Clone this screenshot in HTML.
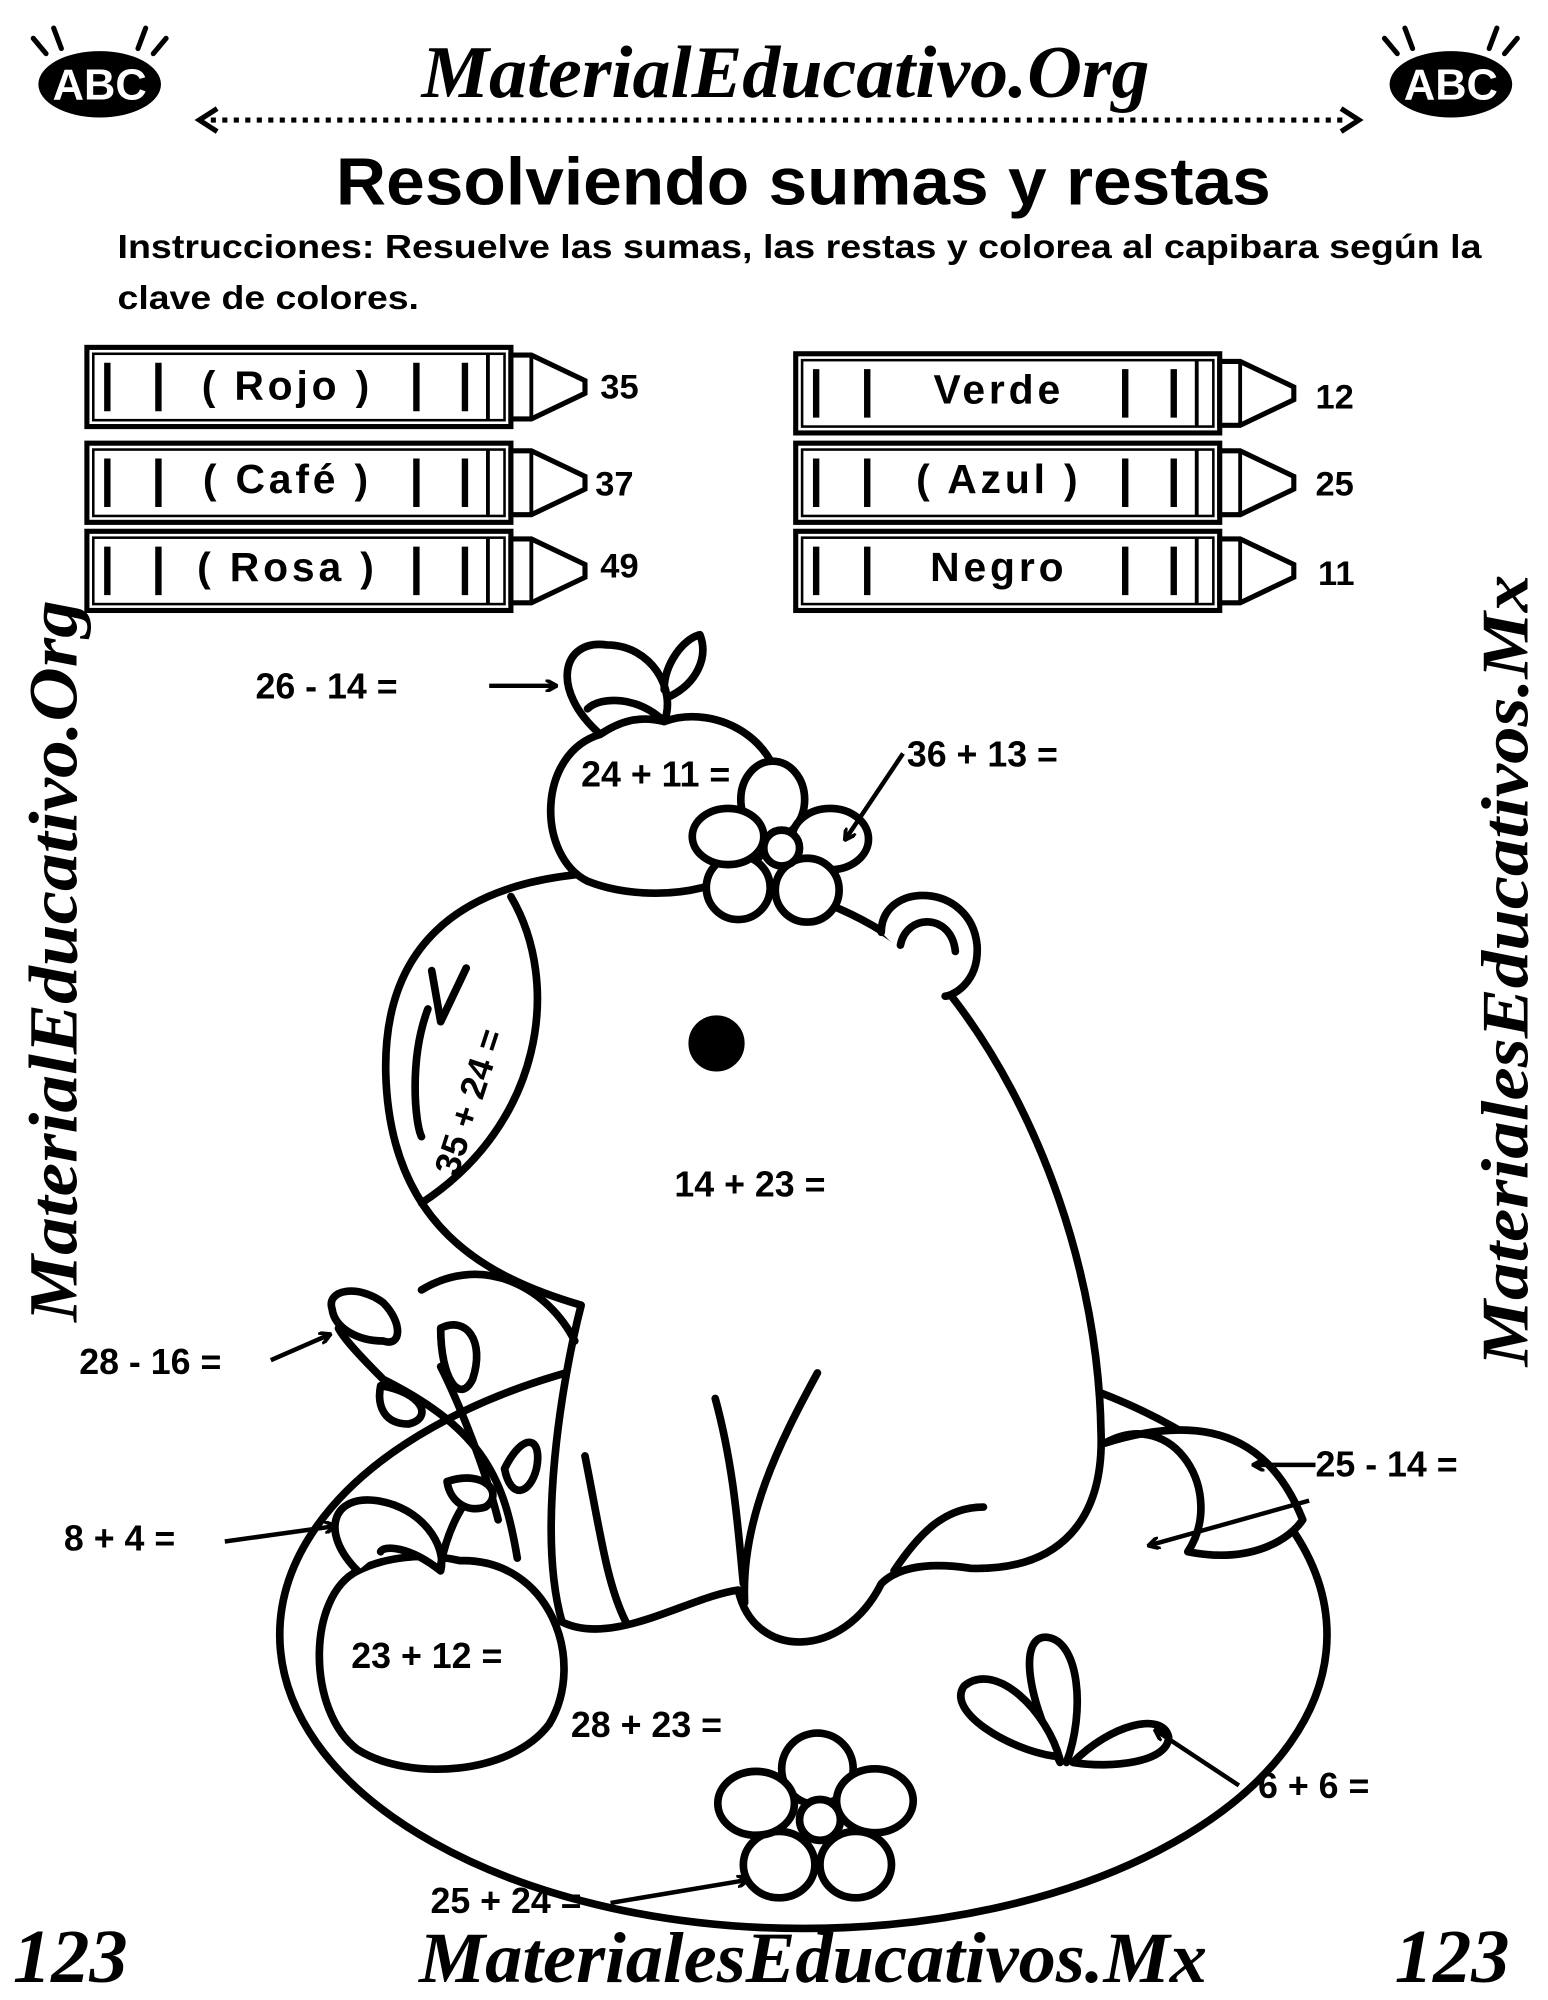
<!DOCTYPE html>
<html><head><meta charset="utf-8"><style>
html,body{margin:0;padding:0;background:#fff}
svg{display:block}
text{font-family:"Liberation Sans",sans-serif;font-weight:bold;fill:#000}
.ser{font-family:"Liberation Serif",serif;font-style:italic;font-weight:bold}
</style></head><body>
<svg width="1548" height="2000" viewBox="0 0 1212 1566" xmlns="http://www.w3.org/2000/svg">
<defs>
<marker id="ah" markerWidth="10" markerHeight="10" refX="8" refY="5" orient="auto" markerUnits="userSpaceOnUse">
<path d="M0,0 L9,5 L0,10" fill="none" stroke="#000" stroke-width="3"/>
</marker>
<g id="cr">
<rect x="0" y="0" width="332" height="62" fill="#fff" stroke="#000" stroke-width="4"/>
<rect x="5" y="5" width="322" height="52" fill="none" stroke="#000" stroke-width="2"/>
<line x1="16" y1="12" x2="16" y2="50" stroke="#000" stroke-width="5"/>
<line x1="56" y1="12" x2="56" y2="50" stroke="#000" stroke-width="5"/>
<line x1="258" y1="12" x2="258" y2="50" stroke="#000" stroke-width="5"/>
<line x1="296" y1="12" x2="296" y2="50" stroke="#000" stroke-width="5"/>
<line x1="314" y1="5" x2="314" y2="57" stroke="#000" stroke-width="3"/>
<path d="M332,6 L348,6 L390,26 L390,36 L348,56 L332,56 Z" fill="#fff" stroke="#000" stroke-width="4"/>
<line x1="348" y1="6" x2="348" y2="56" stroke="#000" stroke-width="3"/>
</g>
<g id="abc">
<ellipse cx="0" cy="0" rx="48" ry="26" fill="#000"/>
<text x="0" y="12" text-anchor="middle" font-size="34" style="fill:#fff">ABC</text>
<path d="M-52,-36 l10,12 M-36,-44 l6,16 M52,-36 l-10,12 M36,-44 l-6,16" stroke="#000" stroke-width="4" stroke-linecap="round"/>
</g>
</defs>

<use href="#abc" x="78" y="66"/>
<use href="#abc" x="1136" y="66"/>
<text x="330" y="76" class="ser" font-size="58" textLength="570" lengthAdjust="spacingAndGlyphs">MaterialEducativo.Org</text>
<line x1="165" y1="94" x2="1055" y2="94" stroke="#000" stroke-width="4" stroke-dasharray="4,5"/>
<path d="M170,85 L156,94 L170,103" fill="none" stroke="#000" stroke-width="4"/>
<path d="M1050,85 L1064,94 L1050,103" fill="none" stroke="#000" stroke-width="4"/>
<text x="263" y="160" font-size="52" textLength="732" lengthAdjust="spacingAndGlyphs">Resolviendo sumas y restas</text>
<text x="92" y="202" font-size="26" textLength="1068" lengthAdjust="spacingAndGlyphs">Instrucciones: Resuelve las sumas, las restas y colorea al capibara según la</text>
<text x="92" y="242" font-size="26" textLength="236" lengthAdjust="spacingAndGlyphs">clave de colores.</text>

<use href="#cr" x="68" y="272"/>
<use href="#cr" x="68" y="347"/>
<use href="#cr" x="68" y="416"/>
<use href="#cr" x="623" y="277"/>
<use href="#cr" x="623" y="347"/>
<use href="#cr" x="623" y="416"/>
<g font-size="32" letter-spacing="3" text-anchor="middle">
<rect x="160" y="280" width="130" height="46" fill="#fff"/><text x="225" y="313">( Rojo )</text>
<rect x="160" y="355" width="130" height="46" fill="#fff"/><text x="225" y="386">( Café )</text>
<rect x="160" y="424" width="130" height="46" fill="#fff"/><text x="225" y="455">( Rosa )</text>
<rect x="705" y="285" width="160" height="46" fill="#fff"/><text x="782" y="316">Verde</text>
<rect x="705" y="355" width="160" height="46" fill="#fff"/><text x="782" y="386">( Azul )</text>
<rect x="705" y="424" width="160" height="46" fill="#fff"/><text x="782" y="455">Negro</text>
</g>
<g font-size="27">
<text x="470" y="312">35</text><text x="466" y="388">37</text><text x="470" y="452">49</text>
<text x="1030" y="320">12</text><text x="1030" y="388">25</text><text x="1032" y="458">11</text>
</g>

<text transform="translate(60,1035) rotate(-90)" class="ser" font-size="54" textLength="565" lengthAdjust="spacingAndGlyphs">MaterialEducativo.Org</text>
<text transform="translate(1196,1070) rotate(-90)" class="ser" font-size="52" textLength="620" lengthAdjust="spacingAndGlyphs">MaterialesEducativos.Mx</text>
<text x="328" y="1552" class="ser" font-size="56" textLength="617" lengthAdjust="spacingAndGlyphs">MaterialesEducativos.Mx</text>
<text x="10" y="1552" class="ser" font-size="60">123</text>
<text x="1092" y="1552" class="ser" font-size="60">123</text>

<g fill="none" stroke="#000" stroke-width="6" stroke-linecap="round" stroke-linejoin="round">
<ellipse cx="629" cy="1280" rx="410" ry="230" fill="#fff"/>
<path d="M865,1130 C920,1100 960,1170 930,1215 C980,1225 1010,1205 1020,1190 C1000,1140 960,1100 865,1130" fill="#fff"/>
<path d="M455,1022 C380,1000 305,960 302,840 C300,740 360,695 450,685 C560,672 690,700 745,780 C815,870 860,1000 862,1120 C865,1190 830,1230 760,1228 C720,1222 700,1230 690,1240 C660,1300 590,1300 578,1245 C540,1250 480,1290 440,1270 C420,1200 440,1080 455,1022 Z" fill="#fff"/>
<path d="M400,702 C440,770 425,880 330,942"/>
<path d="M330,1010 C380,980 430,1010 450,1050"/>
<path d="M458,1140 C470,1200 475,1240 490,1270"/>
<path d="M560,1095 C575,1150 578,1200 582,1240"/>
<path d="M640,1075 C610,1130 580,1190 583,1255"/>
<path d="M700,1230 C720,1200 740,1180 770,1180"/>
<path d="M335,790 C320,830 325,880 330,890"/>
<path d="M338,760 L345,800 L365,758"/>
<path d="M690,730 C690,690 760,690 765,740 C767,770 745,780 740,780" fill="#fff"/>
<path d="M705,740 C710,715 745,715 748,745"/>
<circle cx="561" cy="817" r="19" fill="#000"/>
<path d="M470,575 C420,590 420,670 460,690 C510,710 600,700 610,640 C620,580 560,550 520,565 C500,560 485,565 470,575 Z" fill="#fff"/>
<path d="M470,575 C430,540 440,500 475,505 C510,505 530,540 520,565 C500,545 470,545 460,555"/>
<path d="M520,540 C520,520 535,500 548,497 C555,515 545,535 525,545"/>
<g fill="#fff">
<ellipse cx="605" cy="626" rx="25" ry="30"/>
<ellipse cx="650" cy="657" rx="30" ry="24"/>
<ellipse cx="632" cy="697" rx="25" ry="25"/>
<ellipse cx="578" cy="695" rx="25" ry="25"/>
<ellipse cx="570" cy="655" rx="28" ry="22"/>
<circle cx="612" cy="664" r="14"/>
</g>
<path d="M405,1220 C395,1160 380,1120 300,1080 C290,1070 270,1050 265,1040"/>
<path d="M390,1190 C380,1150 360,1100 345,1070"/>
<path d="M280,1230 C240,1250 240,1340 280,1370 C320,1395 400,1390 430,1350 C460,1300 430,1220 360,1222 C330,1215 300,1220 280,1230 Z" fill="#fff"/>
<path d="M280,1230 C250,1200 260,1170 295,1175 C330,1180 350,1210 345,1230 C320,1210 300,1210 298,1215" fill="#fff"/>
<path d="M345,1225 C350,1200 360,1180 370,1170"/>
<path d="M260,1025 C255,1010 280,1005 300,1020 C315,1035 315,1055 300,1050 C280,1050 262,1040 260,1025" fill="#fff"/>
<path d="M345,1040 C365,1030 380,1050 370,1080 C360,1100 345,1080 345,1040" fill="#fff"/>
<path d="M298,1085 C330,1090 340,1110 320,1115 C300,1115 295,1100 298,1085" fill="#fff"/>
<path d="M395,1150 C410,1120 425,1125 420,1150 C415,1170 400,1175 395,1150" fill="#fff"/>
<path d="M350,1160 C380,1150 395,1170 380,1180 C365,1185 352,1175 350,1160" fill="#fff"/>
<path d="M830,1380 C800,1320 800,1280 820,1282 C845,1285 850,1340 835,1380" fill="#fff"/>
<path d="M825,1375 C790,1370 740,1340 755,1320 C780,1300 820,1340 830,1378" fill="#fff"/>
<path d="M840,1380 C870,1350 910,1340 915,1360 C915,1380 870,1385 840,1380" fill="#fff"/>
<g fill="#fff">
<ellipse cx="640" cy="1385" rx="28" ry="28"/>
<ellipse cx="685" cy="1410" rx="30" ry="25"/>
<ellipse cx="670" cy="1460" rx="28" ry="26"/>
<ellipse cx="610" cy="1460" rx="28" ry="26"/>
<ellipse cx="592" cy="1412" rx="30" ry="25"/>
<circle cx="642" cy="1425" r="16"/>
</g>
</g>

<g stroke="#000" stroke-width="3.5" fill="none" marker-end="url(#ah)">
<line x1="383" y1="537" x2="435" y2="537"/>
<line x1="707" y1="590" x2="662" y2="657"/>
<line x1="212" y1="1065" x2="258" y2="1045"/>
<line x1="1030" y1="1147" x2="982" y2="1147"/>
<line x1="1025" y1="1175" x2="900" y2="1210"/>
<line x1="176" y1="1207" x2="262" y2="1195"/>
<line x1="970" y1="1398" x2="905" y2="1355"/>
<line x1="478" y1="1490" x2="585" y2="1472"/>
</g>

<g font-size="28">
<text x="200" y="547">26 - 14 =</text>
<text x="455" y="616">24 + 11 =</text>
<text x="710" y="600">36 + 13 =</text>
<text transform="translate(358,922) rotate(-72)">35 + 24 =</text>
<text x="528" y="937">14 + 23 =</text>
<text x="62" y="1076">28 - 16 =</text>
<text x="1030" y="1156">25 - 14 =</text>
<text x="50" y="1214">8 + 4 =</text>
<text x="275" y="1306">23 + 12 =</text>
<text x="447" y="1360">28 + 23 =</text>
<text x="985" y="1408">6 + 6 =</text>
<text x="337" y="1498">25 + 24 =</text>
</g>
</svg>
</body></html>
